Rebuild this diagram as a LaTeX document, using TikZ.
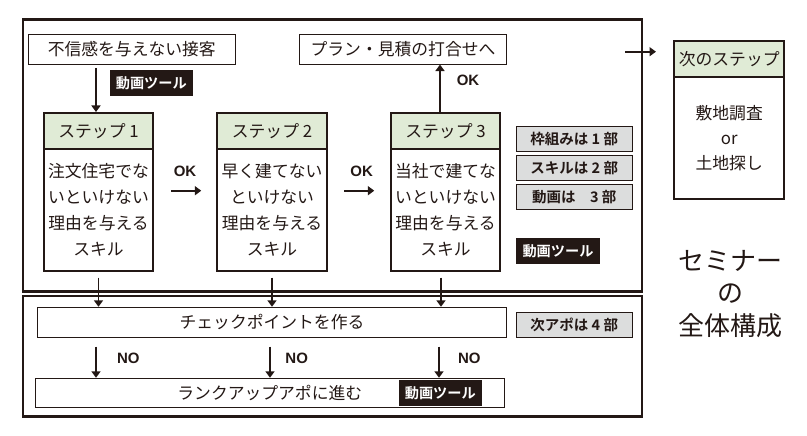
\documentclass[tikz,border=0pt]{standalone}
\usepackage{fontspec}
\setmainfont{Noto Sans CJK JP}[BoldFont={Noto Sans CJK JP Bold}]
\newfontfamily\latb{Liberation Sans}[BoldFont={Liberation Sans Bold}]
\usetikzlibrary{arrows.meta}
\definecolor{hdr}{HTML}{E0EBD6}
\definecolor{gbox}{HTML}{DCDDDD}
\definecolor{ink}{HTML}{231815}
\tikzset{
  frame/.style={draw=ink,line width=2.3pt},
  thinbox/.style={draw=ink,line width=1pt,inner sep=0pt,font=\fontsize{16.8}{20}\selectfont,text=ink},
  stephead/.style={draw=ink,line width=2pt,fill=hdr,inner sep=0pt,minimum height=36pt,font=\fontsize{16.8}{20}\selectfont,text=ink},
  stepbody/.style={draw=ink,line width=2pt,inner sep=0pt,align=center,font=\fontsize{16.8}{26}\selectfont,text=ink},
  tag/.style={fill=ink,text=white,inner sep=0pt,minimum width=83pt,minimum height=25.5pt,font=\fontsize{14.2}{16}\selectfont\bfseries},
  graytag/.style={draw=ink,line width=1pt,fill=gbox,inner sep=0pt,minimum width=116pt,minimum height=25pt,font=\fontsize{14.5}{16}\selectfont\bfseries,text=ink},
  lbl/.style={font=\latb\bfseries\fontsize{15}{16}\selectfont,text=ink,inner sep=0pt},
  arr/.style={draw=ink,line width=1.9pt,-{Triangle[width=9pt,length=6.5pt]}},
}
\begin{document}
\begin{tikzpicture}[x=1pt,y=-1pt]
\useasboundingbox (0,0) rectangle (807,436);
% outer frames
\draw[frame] (23,19.5) rectangle (642,291.5);
\draw[frame] (23,296) rectangle (642,416.5);
% top boxes
\node[thinbox,minimum width=207pt,minimum height=29.7pt] (trust) at (131.8,49.2) {不信感を与えない接客};
\node[thinbox,minimum width=207.4pt,minimum height=29.7pt] (plan) at (403,49.2) {プラン・見積の打合せへ};
\node[tag] (tag1) at (151.3,82.8) {動画ツール};
% steps
\node[stephead,minimum width=109.6pt] (h1) at (98.5,131) {ステップ 1};
\node[stepbody,minimum width=109.6pt,minimum height=122pt] (b1) at (98.5,210) {注文住宅でな\\いといけない\\理由を与える\\スキル};
\node[stephead,minimum width=110.6pt] (h2) at (272,131) {ステップ 2};
\node[stepbody,minimum width=110.6pt,minimum height=122pt] (b2) at (272,210) {早く建てない\\といけない\\理由を与える\\スキル};
\node[stephead,minimum width=109pt] (h3) at (445.5,131) {ステップ 3};
\node[stepbody,minimum width=109pt,minimum height=122pt] (b3) at (445.5,210) {当社で建てな\\いといけない\\理由を与える\\スキル};
% gray tags
\node[graytag] (g1) at (574.2,138.7) {枠組みは 1 部};
\node[graytag] (g2) at (574.2,167.8) {スキルは 2 部};
\node[graytag] (g3) at (574.2,197.2) {動画は　3 部};
\node[tag,minimum width=84pt] (tag2) at (558,250.8) {動画ツール};
% next step
\node[stephead,minimum width=110.3pt,line width=2pt] (nh) at (729.2,58.7) {次のステップ};
\node[stepbody,minimum width=110.3pt,minimum height=122.6pt,font=\fontsize{16.8}{25}\selectfont] (nb) at (729.2,138) {敷地調査\\or\\土地探し};
\coordinate (ra) at (625,51.7);
\coordinate (rb) at (656,51.7);
\draw[arr] (ra) -- (rb);
% seminar title
\node[align=center,font=\fontsize{26}{32.5}\selectfont,text=ink,inner sep=0pt] (title) at (730,294) {セミナー\\の\\全体構成};
% lower section
\node[thinbox,minimum width=469.4pt,minimum height=30pt] (check) at (272,322.3) {チェックポイントを作る};
\node[graytag] (g4) at (574.2,324.8) {次アポは 4 部};
\node[thinbox,minimum width=469pt,minimum height=29pt] (rank) at (269.8,392.8) {ランクアップアポに進む};
\node[tag,minimum width=82.7pt] (tag3) at (440.3,392.8) {動画ツール};
% arrows
\coordinate (a0) at (96,68);
\draw[arr] (a0) -- (a0 |- h1.north);
\draw[arr] ([xshift=17pt]b1.east |- 0,190.7) coordinate (ok1s) -- ++(30,0) coordinate (ok1e);
\node[lbl] (ok1) at (185,171.7) {OK};
\draw[arr] ([xshift=16pt]b2.east |- 0,190.7) coordinate (ok2s) -- ++(30,0) coordinate (ok2e);
\node[lbl] (ok2) at (361.7,171.7) {OK};
\draw[arr] ([xshift=-5.5pt]h3.north) -- ([xshift=-5.5pt]h3.north |- plan.south) ;
\node[lbl] (ok3) at (468,80) {OK};
\draw[arr] ([yshift=-5.5pt]b1.south) -- (b1.south |- check.north);
\draw[arr] ([yshift=-5.5pt]b2.south) -- (b2.south |- check.north);
\draw[arr] ([xshift=-4.5pt,yshift=-5.5pt]b3.south) -- ([xshift=-4.5pt]b3.south |- check.north);
\coordinate (n1) at (96,346.7);
\coordinate (n2) at (270,346.7);
\coordinate (n3) at (439,346.7);
\draw[arr] (n1) -- (n1 |- rank.north);
\draw[arr] (n2) -- (n2 |- rank.north);
\draw[arr] (n3) -- (n3 |- rank.north);
\node[lbl] (no1) at (128.3,358.3) {NO};
\node[lbl] (no2) at (296.7,358.3) {NO};
\node[lbl] (no3) at (469.3,358.3) {NO};
\end{tikzpicture}
\end{document}
